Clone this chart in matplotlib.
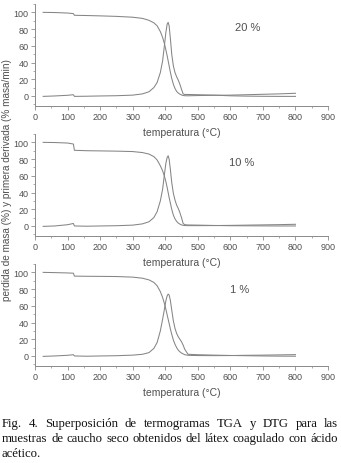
import matplotlib
matplotlib.use("Agg")
import matplotlib.pyplot as plt
from matplotlib.ticker import MultipleLocator

# ---------------- data ----------------
temperature = [25, 60, 100, 118, 121, 160, 200, 250, 300, 330, 350, 365, 375, 385, 392,
               398, 402, 406, 409, 412, 416, 420, 425, 430, 435, 440, 445, 450, 455, 460,
               470, 500, 550, 600, 650, 700, 750, 800]

tga_20 = [100, 99.8, 99.2, 98.5, 96.5, 96.2, 95.8, 95.2, 94.2, 92.8, 90.5, 87.5, 84, 77, 70,
          62, 55, 48, 42, 36, 28, 21, 14, 9, 5.5, 3.5, 2.2, 1.2, 0.6, 0.3,
          0.2, 0.5, 0.8, 1.0, 1.5, 2.0, 2.5, 3.2]
dtg_20 = [-0.5, 0, 0.8, 1.5, -0.5, -0.3, 0, 0.3, 1, 2.5, 5, 10, 16, 28, 42,
          62, 76, 86, 88, 84, 68, 50, 36, 28, 23, 19, 14, 8, 2.5, 1.8,
          1.8, 1.5, 1, 0.2, -0.2, -0.4, -0.5, -0.5]

tga_10 = [100, 99.8, 99.2, 98, 90.5, 90, 89.8, 89.5, 89, 87.8, 86, 83, 79, 72, 66,
          59, 53, 46, 40, 34, 27, 20, 13, 8.5, 5.5, 3.5, 2.2, 1.3, 0.8, 0.5,
          0.4, 0.4, 0.5, 0.7, 1.0, 1.3, 1.6, 2.0]
dtg_10 = [-0.5, 0, 1.5, 3, 0, -0.3, 0, 0.3, 1, 2.5, 5, 10, 17, 30, 44,
          63, 75, 82, 84, 80, 67, 52, 39, 31, 25, 21, 16, 10, 3, 1.5,
          1.2, 1, 0.6, 0.3, 0.2, 0.1, 0, 0]

tga_1 = [100, 99.7, 99.3, 99, 95.5, 95.3, 95.2, 95, 94.3, 93, 91, 88, 84, 77, 70,
         62, 56, 49, 44, 39, 32, 26, 19, 14, 10, 7, 5, 3.5, 2.5, 1.5,
         0.8, 0.5, 0.4, 0.5, 0.8, 1.0, 1.3, 1.6]
dtg_1 = [-0.5, 0, 0.8, 1.5, 0, -0.3, 0, 0.3, 1, 2, 4, 9, 16, 30, 44,
         57, 66, 72, 74, 73, 66, 55, 42, 33, 27, 23, 20, 17, 13, 8,
         2, 1.5, 1, 0.6, 0.3, 0, -0.2, -0.3]

panel_labels = ["20 %", "10 %", "1 %"]
label_pos = [(654, 82), (636, 76), (630, 80)]
x_ticks = [0, 100, 200, 300, 400, 500, 600, 700, 800, 900]
y_ticks = [0, 20, 40, 60, 80, 100]

ylabel = "perdida de masa (%) y primera derivada (% masa/min)"
xlabel = "temperatura (°C)"
caption_lines = [
    "Fig. 4. Superposición de termogramas TGA y DTG  para las",
    "muestras de caucho seco obtenidos del látex coagulado con ácido",
    "acético.",
]

# ---------------- figure ----------------
W, H = 341, 464
fig = plt.figure(figsize=(W / 100, H / 100), dpi=100)
plt.rcParams['font.family'] = ['Liberation Sans', 'DejaVu Sans']

line_col = "#858585"
text_col = "#505050"
axis_col = "#8a8a8a"

series = [(tga_20, dtg_20), (tga_10, dtg_10), (tga_1, dtg_1)]
# (bottom, top) in pixels from top
boxes = [(107, 5), (237, 135), (367, 265)]
left_px, right_px = 35, 328

for i, ((tga, dtg), (b, t)) in enumerate(zip(series, boxes)):
    ax = fig.add_axes([left_px / W, 1 - b / H, (right_px - left_px) / W, (b - t) / H])
    ax.patch.set_alpha(0)
    ax.plot(temperature, tga, color=line_col, lw=0.75)
    ax.plot(temperature, dtg, color=line_col, lw=0.75)
    ax.set_xlim(0, 900)
    ax.set_ylim(-12, 110)
    ax.set_xticks(x_ticks)
    ax.set_yticks(y_ticks)
    ax.xaxis.set_minor_locator(MultipleLocator(50))
    ax.yaxis.set_minor_locator(MultipleLocator(10))
    for s in ["top", "right"]:
        ax.spines[s].set_visible(False)
    for s in ["left", "bottom"]:
        ax.spines[s].set_color(axis_col)
        ax.spines[s].set_linewidth(0.7)
    ax.tick_params(which="major", direction="out", length=3, width=0.6,
                   color=axis_col, labelsize=6.5, labelcolor=text_col, pad=1.5)
    ax.tick_params(which="minor", direction="out", length=1.5, width=0.5, color=axis_col)
    ax.set_xlabel(xlabel, fontsize=7.5, color=text_col, labelpad=4)
    ax.text(label_pos[i][0], label_pos[i][1], panel_labels[i], fontsize=8,
            color=text_col, ha="center", va="center")

fig.text(7 / W, 1 - 180 / H, ylabel, rotation=90, fontsize=7.2, color=text_col,
         ha="center", va="center")

# ---------------- justified caption ----------------
fig.canvas.draw()
renderer = fig.canvas.get_renderer()
x0, x1 = 2, 338
# pick the size at which the second (longest) line naturally fills the width
probe = fig.text(0, 0, caption_lines[1], fontsize=10, family="Liberation Serif")
nat = probe.get_window_extent(renderer).width
probe.remove()
cap_size = 10 * (x1 - x0 - 2) / nat
cap_font = dict(fontsize=cap_size, family="Liberation Serif", color="#111111")
line_y = [424, 439, 454]
for li, line in enumerate(caption_lines):
    y = 1 - line_y[li] / H
    words = line.split()
    if li == len(caption_lines) - 1:
        fig.text(x0 / W, y, line, ha="left", va="center", **cap_font)
        continue
    widths = []
    for w in words:
        t = fig.text(0, 0, w, **cap_font)
        widths.append(t.get_window_extent(renderer).width)
        t.remove()
    gap = (x1 - x0 - sum(widths)) / (len(words) - 1)
    x = x0
    for w, wd in zip(words, widths):
        fig.text(x / W, y, w, ha="left", va="center", **cap_font)
        x += wd + gap

fig.savefig("out.png", dpi=100)
